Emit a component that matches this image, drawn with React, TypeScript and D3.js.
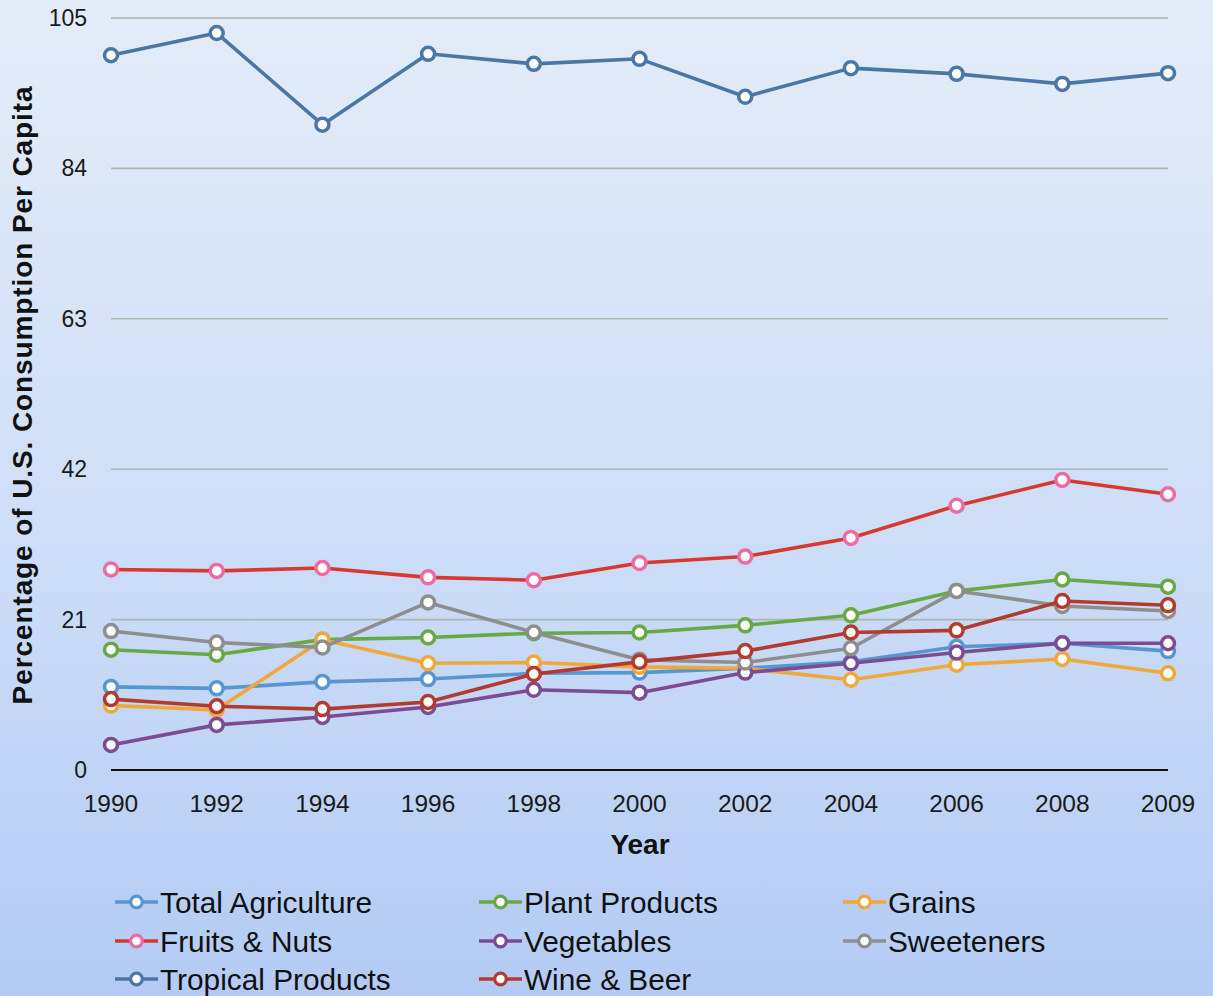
import React from "react";
import * as d3 from "d3";

const years = ["1990", "1992", "1994", "1996", "1998", "2000", "2002", "2004", "2006", "2008", "2009"];
const yTicks = [0, 21, 42, 63, 84, 105];

const totalAgriculture = [11.6, 11.4, 12.3, 12.7, 13.5, 13.6, 14.2, 15.1, 17.2, 17.7, 16.6];
const plantProducts = [16.8, 16.1, 18.2, 18.5, 19.1, 19.2, 20.2, 21.6, 25.0, 26.6, 25.6];
const grains = [9.0, 8.4, 18.2, 14.9, 15.0, 14.4, 14.2, 12.6, 14.7, 15.5, 13.5];
const fruitsNuts = [28.0, 27.8, 28.2, 26.9, 26.5, 28.9, 29.8, 32.4, 36.9, 40.5, 38.5];
const vegetables = [3.5, 6.3, 7.4, 8.8, 11.2, 10.8, 13.6, 14.9, 16.4, 17.7, 17.7];
const sweeteners = [19.4, 17.8, 17.1, 23.4, 19.2, 15.4, 15.0, 17.0, 25.0, 22.9, 22.2];
const tropicalProducts = [99.8, 102.9, 90.1, 100.0, 98.6, 99.3, 94.0, 98.0, 97.2, 95.8, 97.3];
const wineBeer = [9.9, 8.9, 8.5, 9.5, 13.4, 15.1, 16.6, 19.2, 19.5, 23.6, 23.0];

const seriesNames = [
  "Total Agriculture",
  "Plant Products",
  "Grains",
  "Fruits & Nuts",
  "Vegetables",
  "Sweeteners",
  "Tropical Products",
  "Wine & Beer",
];
const seriesValues = [totalAgriculture, plantProducts, grains, fruitsNuts, vegetables, sweeteners, tropicalProducts, wineBeer];
const lineColors = ["#5896cf", "#67a944", "#f0a83a", "#d63a2f", "#7d4b93", "#8e8e8e", "#4a77a6", "#b23b2f"];
const markerColors = ["#5896cf", "#67a944", "#f0a83a", "#ec6ba2", "#7d4b93", "#8e8e8e", "#4a77a6", "#b23b2f"];

const W = 1213;
const H = 996;
const FONT = "'Liberation Sans', Arial, sans-serif";

export default function App() {
  const x = d3.scalePoint<string>().domain(years).range([111, 1168]).padding(0);
  const y = d3.scaleLinear().domain([0, 105]).range([770, 18]);
  const line = d3
    .line<number>()
    .x((_, i) => x(years[i]) as number)
    .y((d) => y(d));

  const legendCols = [115, 479, 843];
  const legendRows = [902, 941, 979];

  return (
    <svg
      width={W}
      height={H}
      style={{ position: "absolute", left: 0, top: 0, display: "block" }}
      fontFamily={FONT}
    >
      <defs>
        <linearGradient id="bg" x1="0" y1="0" x2="0" y2="1">
          <stop offset="0" stopColor="#e4ecf8" />
          <stop offset="0.5" stopColor="#cfdff7" />
          <stop offset="1" stopColor="#b3cbf4" />
        </linearGradient>
      </defs>
      <rect x={0} y={0} width={W} height={H} fill="url(#bg)" />

      {/* horizontal gridlines */}
      {yTicks
        .filter((t) => t > 0)
        .map((t) => (
          <line key={t} x1={111} x2={1168} y1={y(t)} y2={y(t)} stroke="#aeb4b2" strokeWidth={1.6} />
        ))}

      {/* y tick labels */}
      {yTicks.map((t) => (
        <text key={t} x={87} y={y(t)} dy="0.35em" textAnchor="end" fontSize={23} fill="#1a1a1a">
          {t}
        </text>
      ))}

      {/* x axis baseline */}
      <line x1={111} x2={1168} y1={y(0)} y2={y(0)} stroke="#111" strokeWidth={2.2} />

      {/* x tick labels */}
      {years.map((yr) => (
        <text key={yr} x={x(yr)} y={803} dy="0.35em" textAnchor="middle" fontSize={24.5} fill="#1a1a1a">
          {yr}
        </text>
      ))}

      {/* axis titles */}
      <text x={640} y={844} dy="0.35em" textAnchor="middle" fontSize={28} fontWeight="bold" fill="#111">
        Year
      </text>
      <text
        transform={`translate(22,395) rotate(-90)`}
        dy="0.35em"
        textAnchor="middle"
        fontSize={28}
        fontWeight="bold"
        letterSpacing={0.9}
        fill="#111"
      >
        Percentage of U.S. Consumption Per Capita
      </text>

      {/* series */}
      {seriesValues.map((vals, si) => (
        <g key={seriesNames[si]}>
          <path d={line(vals) as string} fill="none" stroke={lineColors[si]} strokeWidth={3.6} strokeLinejoin="round" />
          {vals.map((v, i) => (
            <circle
              key={i}
              cx={x(years[i])}
              cy={y(v)}
              r={6.5}
              fill="#fff"
              stroke={markerColors[si]}
              strokeWidth={3.5}
            />
          ))}
        </g>
      ))}

      {/* legend */}
      {seriesNames.map((name, si) => {
        const cx = legendCols[si % 3];
        const cy = legendRows[Math.floor(si / 3)];
        return (
          <g key={name} transform={`translate(${cx},${cy})`}>
            <line x1={0} x2={43} y1={0} y2={0} stroke={lineColors[si]} strokeWidth={3.6} />
            <circle cx={21.5} cy={0} r={5.8} fill="#fff" stroke={markerColors[si]} strokeWidth={3.2} />
            <text x={45} y={0} dy="0.36em" fontSize={29.8} fill="#111">
              {name}
            </text>
          </g>
        );
      })}
    </svg>
  );
}
